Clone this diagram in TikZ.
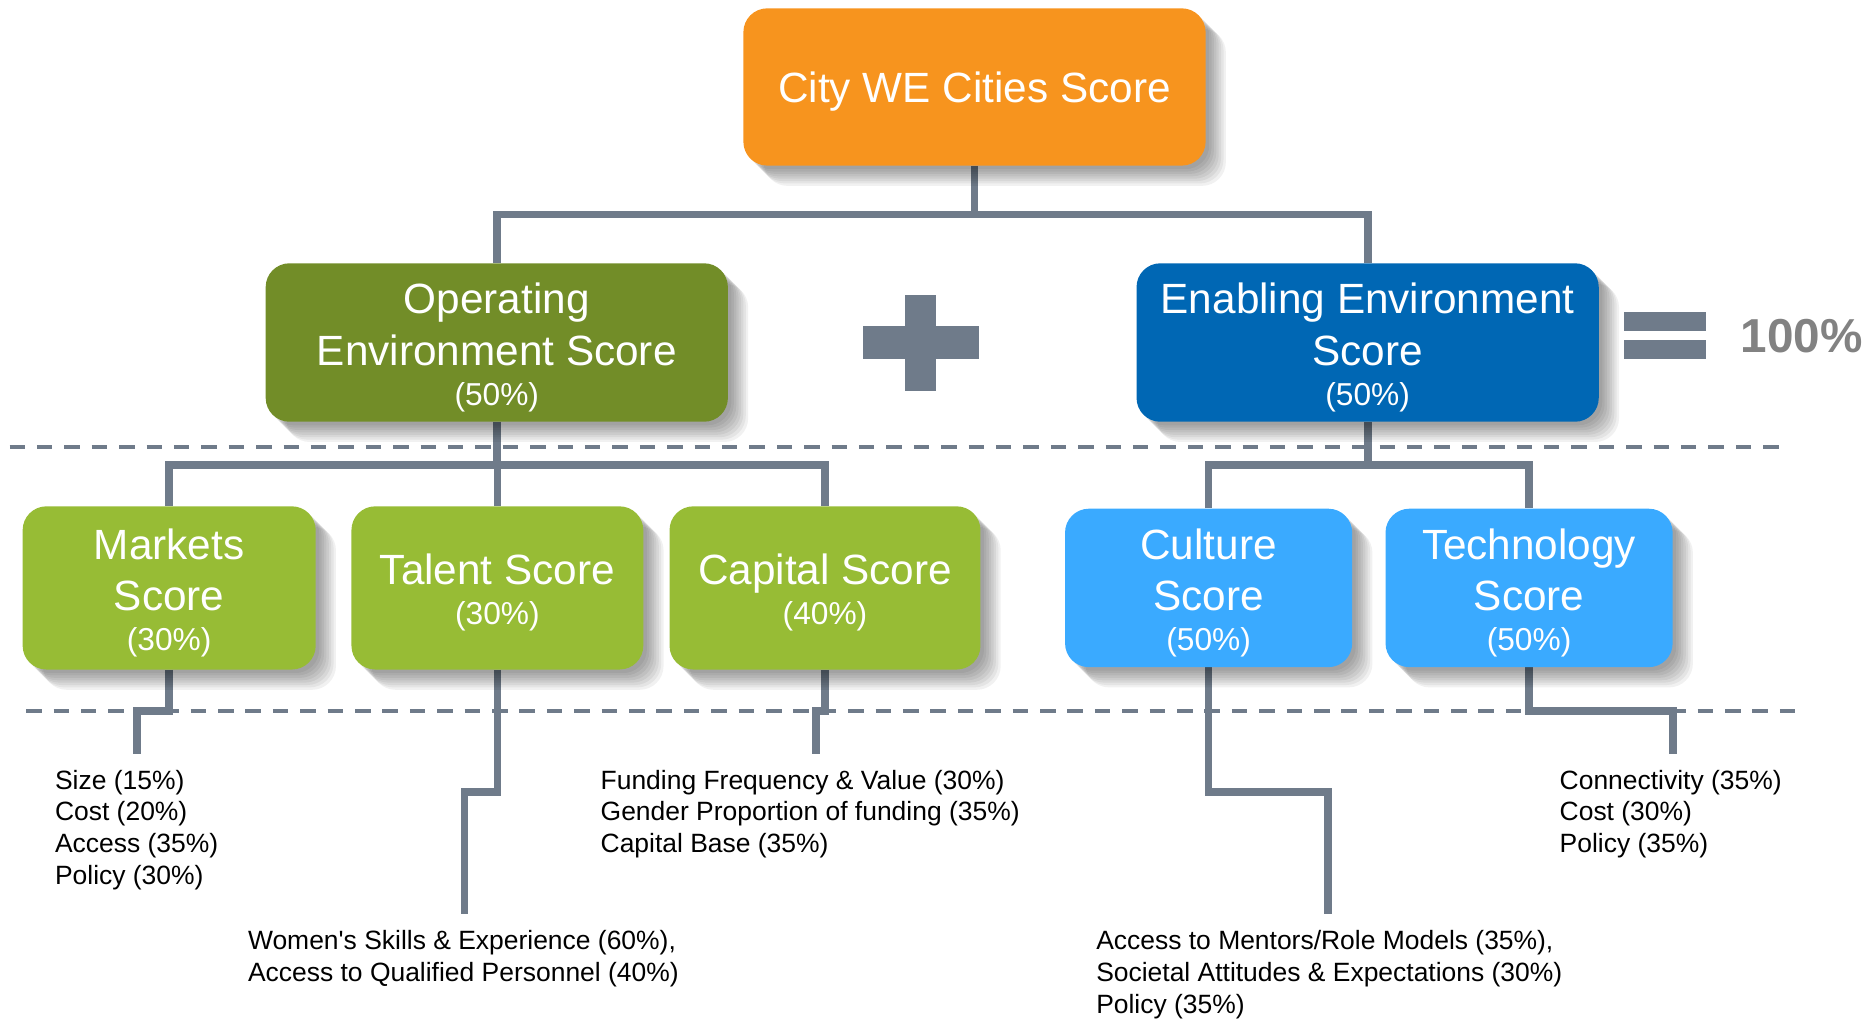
\documentclass[tikz,border=0pt]{standalone}
\usepackage{fontspec}
\setmainfont{Liberation Sans}
\usetikzlibrary{shadows}
\pgfdeclarelayer{bg}
\pgfsetlayers{bg,main}
\definecolor{orng}{HTML}{F7941E}
\definecolor{dgreen}{HTML}{728D28}
\definecolor{lgreen}{HTML}{97BC35}
\definecolor{dblue}{HTML}{0067B4}
\definecolor{lblue}{HTML}{3AAAFF}
\definecolor{lgray}{HTML}{6F7B8A}
\definecolor{pctgray}{HTML}{828282}
\newcommand\tallstrut{\rule{0pt}{34pt}}
\newcommand\pcline[1]{\\[-9.5pt]{\fontsize{26.6}{30}\selectfont(#1\%)}}
\begin{document}
\begin{tikzpicture}[x=1pt,y=-1pt,
  conn/.style={draw=lgray, line width=6.5pt},
  sepline/.style={draw=lgray, line width=3.4pt, dash pattern=on 13pt off 10pt},
  sh/.style={general shadow={shadow xshift=#1,shadow yshift=-#1,fill=black,opacity=.055}},
  softshadow/.style={sh=3pt,sh=5pt,sh=7pt,sh=9pt,sh=11pt,sh=13pt,sh=15pt,sh=17pt},
  sbox/.style={rectangle, rounded corners=20pt, text=white, align=center, inner sep=0pt,
    softshadow, font=\fontsize{35.5}{43}\selectfont},
  leaf/.style={anchor=north west, inner sep=0pt, align=left, text=black,
    font=\fontsize{22.2}{26.8}\selectfont},
]
\useasboundingbox (0,0) rectangle (1568,855);

% dashed separators
\draw[sepline] (8,375) -- (1500,375);
\draw[sepline] (22,597) -- (1512,597);

% boxes
\node[sbox, fill=orng, minimum width=388pt, minimum height=132pt] (top) at (818,73)
  {\tallstrut City WE Cities Score};
\node[sbox, fill=dgreen, minimum width=388pt, minimum height=133pt] (op) at (417,287.5)
  {\tallstrut Operating\\Environment Score\pcline{50}};
\node[sbox, fill=dblue, minimum width=388pt, minimum height=133pt] (en) at (1148,287.5)
  {\tallstrut Enabling Environment\\Score\pcline{50}};
\node[sbox, fill=lgreen, minimum width=246pt, minimum height=137pt] (markets) at (142,493.5)
  {\tallstrut Markets\\Score\pcline{30}};
\node[sbox, fill=lgreen, minimum width=245pt, minimum height=137pt] (talent) at (417.5,493.5)
  {\tallstrut Talent Score\pcline{30}};
\node[sbox, fill=lgreen, minimum width=261pt, minimum height=137pt] (capital) at (692.5,493.5)
  {\tallstrut Capital Score\pcline{40}};
\node[sbox, fill=lblue, minimum width=241pt, minimum height=133pt] (culture) at (1014.5,493.5)
  {\tallstrut Culture\\Score\pcline{50}};
\node[sbox, fill=lblue, minimum width=241pt, minimum height=133pt] (tech) at (1283.5,493.5)
  {\tallstrut Technology\\Score\pcline{50}};

% plus and equals
\fill[lgray] (724,274) rectangle (822,301);
\fill[lgray] (760,248) rectangle (786,328);
\fill[lgray] (1363,261.5) rectangle (1432,277.5);
\fill[lgray] (1363,285.5) rectangle (1432,301);
\node[anchor=west, inner sep=0pt, text=pctgray, font=\fontsize{40}{48}\selectfont\bfseries]
  (hundred) at (1461,282) {100\%};

% leaf texts
\node[leaf] (mkt) at (46,646) {Size (15\%)\\Cost (20\%)\\Access (35\%)\\Policy (30\%)};
\node[leaf] (tlt) at (208,781) {Women\textquotesingle s Skills \& Experience (60\%),\\Access to Qualified Personnel (40\%)};
\node[leaf] (cpt) at (504,646) {Funding Frequency \& Value (30\%)\\Gender Proportion of funding (35\%)\\Capital Base (35\%)};
\node[leaf] (cul) at (920,781) {Access to Mentors/Role Models (35\%),\\Societal Attitudes \& Expectations (30\%)\\Policy (35\%)};
\node[leaf] (tec) at (1309,646) {Connectivity (35\%)\\Cost (30\%)\\Policy (35\%)};

\coordinate (mkend) at (115,633);
\coordinate (tlend) at (390,767);
\coordinate (cpend) at (685,633);
\coordinate (cuend) at (1115,767);
\coordinate (teend) at (1404,633);

\begin{pgfonlayer}{bg}
\draw[conn] (top.south) -- (top.south |- 0,180) -| (op.north);
\draw[conn] (top.south |- 0,180) -| (en.north);
\draw[conn] (op.south) -- (op.south |- 0,390);
\draw[conn] (markets.north) |- (capital.north |- 0,390) -- (capital.north);
\draw[conn] (talent.north) -- (talent.north |- 0,390);
\draw[conn] (en.south) -- (en.south |- 0,390);
\draw[conn] (culture.north) |- (tech.north |- 0,390) -- (tech.north);
\draw[conn] (markets.south) -- (markets.south |- 0,597) -| (mkend);
\draw[conn] (talent.south) -- (talent.south |- 0,664.5) -| (tlend);
\draw[conn] (capital.south) -- (capital.south |- 0,597) -| (cpend);
\draw[conn] (culture.south) -- (culture.south |- 0,664.5) -| (cuend);
\draw[conn] (tech.south) -- (tech.south |- 0,597) -| (teend);
\end{pgfonlayer}
\end{tikzpicture}
\end{document}
